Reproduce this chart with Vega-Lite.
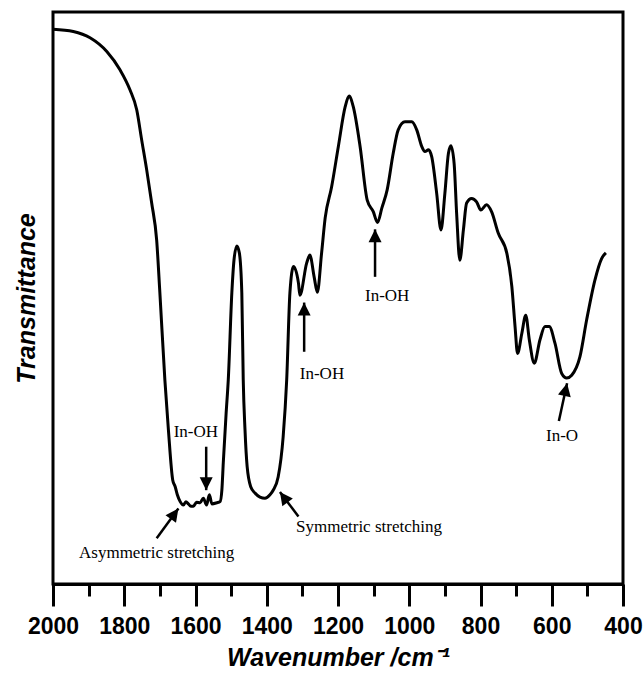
{
  "$schema": "https://vega.github.io/schema/vega-lite/v6.json",
  "width": 570,
  "height": 572,
  "autosize": {"type": "none"},
  "padding": {"left": 53, "top": 12, "right": 21, "bottom": 91},
  "background": "white",
  "config": {
    "view": {"stroke": "black", "strokeWidth": 3},
    "font": "Liberation Sans"
  },
  "datasets": {
    "spectrum": [
      {"wn": 2000, "t": 97.0}, {"wn": 1943, "t": 96.6}, {"wn": 1896, "t": 95.5}, {"wn": 1849, "t": 93.1},
      {"wn": 1812, "t": 89.9}, {"wn": 1784, "t": 86.4}, {"wn": 1765, "t": 82.9}, {"wn": 1751, "t": 77.6},
      {"wn": 1737, "t": 72.4}, {"wn": 1723, "t": 66.6}, {"wn": 1709, "t": 60.1}, {"wn": 1700, "t": 50.9},
      {"wn": 1686, "t": 35.7}, {"wn": 1676, "t": 26.9}, {"wn": 1664, "t": 18.2}, {"wn": 1657, "t": 17.0},
      {"wn": 1651, "t": 15.6}, {"wn": 1643, "t": 14.4}, {"wn": 1634, "t": 13.8}, {"wn": 1627, "t": 14.4},
      {"wn": 1620, "t": 14.0}, {"wn": 1613, "t": 13.6}, {"wn": 1606, "t": 13.6}, {"wn": 1597, "t": 14.3},
      {"wn": 1587, "t": 14.2}, {"wn": 1578, "t": 15.0}, {"wn": 1569, "t": 13.8}, {"wn": 1561, "t": 15.6},
      {"wn": 1554, "t": 14.0}, {"wn": 1540, "t": 14.2}, {"wn": 1531, "t": 14.4}, {"wn": 1526, "t": 16.4},
      {"wn": 1522, "t": 21.2}, {"wn": 1514, "t": 29.9}, {"wn": 1508, "t": 35.7}, {"wn": 1498, "t": 50.9},
      {"wn": 1492, "t": 56.6}, {"wn": 1484, "t": 59.1}, {"wn": 1477, "t": 57.9}, {"wn": 1470, "t": 50.9},
      {"wn": 1466, "t": 35.7}, {"wn": 1461, "t": 26.9}, {"wn": 1455, "t": 20.5}, {"wn": 1445, "t": 17.0},
      {"wn": 1433, "t": 15.9}, {"wn": 1419, "t": 15.2}, {"wn": 1405, "t": 15.0}, {"wn": 1391, "t": 15.6},
      {"wn": 1382, "t": 16.4}, {"wn": 1368, "t": 18.7}, {"wn": 1354, "t": 25.7}, {"wn": 1344, "t": 35.7},
      {"wn": 1335, "t": 50.9}, {"wn": 1325, "t": 55.5}, {"wn": 1311, "t": 52.6}, {"wn": 1307, "t": 50.5},
      {"wn": 1288, "t": 56.1}, {"wn": 1279, "t": 57.5}, {"wn": 1267, "t": 53.7}, {"wn": 1258, "t": 51.0},
      {"wn": 1246, "t": 57.9}, {"wn": 1236, "t": 64.0}, {"wn": 1218, "t": 69.4}, {"wn": 1199, "t": 76.5},
      {"wn": 1180, "t": 83.4}, {"wn": 1169, "t": 85.3}, {"wn": 1157, "t": 83.4}, {"wn": 1138, "t": 76.5},
      {"wn": 1118, "t": 67.1}, {"wn": 1101, "t": 65.1}, {"wn": 1089, "t": 63.2}, {"wn": 1077, "t": 65.7},
      {"wn": 1062, "t": 68.9}, {"wn": 1045, "t": 75.3}, {"wn": 1031, "t": 79.4}, {"wn": 1012, "t": 80.8},
      {"wn": 993, "t": 80.8}, {"wn": 979, "t": 79.4}, {"wn": 965, "t": 76.5}, {"wn": 956, "t": 75.6},
      {"wn": 946, "t": 75.9}, {"wn": 937, "t": 74.7}, {"wn": 923, "t": 68.3}, {"wn": 911, "t": 61.9},
      {"wn": 900, "t": 68.3}, {"wn": 890, "t": 75.3}, {"wn": 883, "t": 76.6}, {"wn": 874, "t": 73.5},
      {"wn": 867, "t": 64.8}, {"wn": 858, "t": 56.6}, {"wn": 848, "t": 61.9}, {"wn": 839, "t": 66.6},
      {"wn": 825, "t": 67.4}, {"wn": 811, "t": 66.8}, {"wn": 799, "t": 65.4}, {"wn": 783, "t": 66.3},
      {"wn": 769, "t": 65.1}, {"wn": 750, "t": 61.3}, {"wn": 726, "t": 57.8}, {"wn": 712, "t": 52.0},
      {"wn": 703, "t": 45.0}, {"wn": 696, "t": 40.3}, {"wn": 684, "t": 43.8}, {"wn": 673, "t": 47.0},
      {"wn": 663, "t": 42.7}, {"wn": 649, "t": 38.6}, {"wn": 633, "t": 42.7}, {"wn": 619, "t": 45.0},
      {"wn": 607, "t": 45.0}, {"wn": 591, "t": 42.1}, {"wn": 572, "t": 36.8}, {"wn": 558, "t": 36.0},
      {"wn": 544, "t": 36.5}, {"wn": 521, "t": 39.7}, {"wn": 502, "t": 46.2}, {"wn": 479, "t": 53.1},
      {"wn": 460, "t": 56.9}, {"wn": 448, "t": 57.9}
    ],
    "notes": [
      {"text": "In-OH", "wn": 1599, "t": 26.6},
      {"text": "Asymmetric stretching", "wn": 1709, "t": 5.4},
      {"text": "Symmetric stretching", "wn": 1113, "t": 10.0},
      {"text": "In-OH", "wn": 1245, "t": 36.7},
      {"text": "In-OH", "wn": 1062, "t": 50.3},
      {"text": "In-O", "wn": 571, "t": 25.9}
    ],
    "arrows": [
      {"id": "a1", "wn": 1570, "t": 24.0, "wn2": 1570, "t2": 16.4},
      {"id": "a2", "wn": 1709, "t": 8.0, "wn2": 1648, "t2": 13.2},
      {"id": "a3", "wn": 1311, "t": 11.8, "wn2": 1363, "t2": 16.1},
      {"id": "a4", "wn": 1295, "t": 40.6, "wn2": 1295, "t2": 49.2},
      {"id": "a5", "wn": 1096, "t": 53.7, "wn2": 1096, "t2": 62.0},
      {"id": "a6", "wn": 580, "t": 28.5, "wn2": 557, "t2": 35.1}
    ]
  },
  "encoding": {
    "x": {
      "field": "wn",
      "type": "quantitative",
      "scale": {"domain": [400, 2000], "reverse": true, "nice": false, "zero": false},
      "axis": {
        "title": "Wavenumber /cm⁻¹",
        "titleFont": "Liberation Sans",
        "titleFontSize": 25,
        "titleFontWeight": "bold",
        "titleFontStyle": "italic",
        "titleColor": "black",
        "titlePadding": 7,
        "values": [2000, 1900, 1800, 1700, 1600, 1500, 1400, 1300, 1200, 1100, 1000, 900, 800, 700, 600, 500, 400],
        "labelExpr": "datum.value % 200 === 0 ? datum.label : ''",
        "format": "d",
        "labelFont": "Liberation Sans",
        "labelFontSize": 23,
        "labelFontWeight": "bold",
        "labelColor": "black",
        "labelPadding": 9,
        "labelFlush": false,
        "labelOverlap": false,
        "grid": false,
        "domainColor": "black",
        "domainWidth": 3,
        "tickColor": "black",
        "tickWidth": 3,
        "tickSize": {"condition": {"test": "datum.value % 200 === 0", "value": 22}, "value": 12}
      }
    },
    "y": {
      "field": "t",
      "type": "quantitative",
      "scale": {"domain": [0, 100], "nice": false, "zero": false},
      "axis": {
        "title": "Transmittance",
        "titleFont": "Liberation Sans",
        "titleFontSize": 25,
        "titleFontWeight": "bold",
        "titleFontStyle": "italic",
        "titleColor": "black",
        "titlePadding": 14,
        "domain": false,
        "ticks": false,
        "labels": false,
        "grid": false
      }
    }
  },
  "layer": [
    {
      "data": {"name": "spectrum"},
      "mark": {"type": "line", "color": "black", "strokeWidth": 3, "interpolate": "monotone", "strokeJoin": "round"}
    },
    {
      "data": {"name": "arrows"},
      "mark": {"type": "rule", "color": "black", "strokeWidth": 2.5},
      "encoding": {"x2": {"field": "wn2"}, "y2": {"field": "t2"}}
    },
    {
      "data": {"name": "arrows"},
      "transform": [{"filter": "datum.id === 'a1'"}],
      "mark": {"type": "point", "shape": "M0,0L0.5,1L-0.5,1Z", "filled": true, "color": "black", "opacity": 1, "size": 676, "angle": 180},
      "encoding": {"x": {"field": "wn2", "type": "quantitative"}, "y": {"field": "t2", "type": "quantitative"}}
    },
    {
      "data": {"name": "arrows"},
      "transform": [{"filter": "datum.id === 'a2'"}],
      "mark": {"type": "point", "shape": "M0,0L0.5,1L-0.5,1Z", "filled": true, "color": "black", "opacity": 1, "size": 676, "angle": 36},
      "encoding": {"x": {"field": "wn2", "type": "quantitative"}, "y": {"field": "t2", "type": "quantitative"}}
    },
    {
      "data": {"name": "arrows"},
      "transform": [{"filter": "datum.id === 'a3'"}],
      "mark": {"type": "point", "shape": "M0,0L0.5,1L-0.5,1Z", "filled": true, "color": "black", "opacity": 1, "size": 676, "angle": 324},
      "encoding": {"x": {"field": "wn2", "type": "quantitative"}, "y": {"field": "t2", "type": "quantitative"}}
    },
    {
      "data": {"name": "arrows"},
      "transform": [{"filter": "datum.id === 'a4' || datum.id === 'a5'"}],
      "mark": {"type": "point", "shape": "M0,0L0.5,1L-0.5,1Z", "filled": true, "color": "black", "opacity": 1, "size": 676, "angle": 0},
      "encoding": {"x": {"field": "wn2", "type": "quantitative"}, "y": {"field": "t2", "type": "quantitative"}}
    },
    {
      "data": {"name": "arrows"},
      "transform": [{"filter": "datum.id === 'a6'"}],
      "mark": {"type": "point", "shape": "M0,0L0.5,1L-0.5,1Z", "filled": true, "color": "black", "opacity": 1, "size": 676, "angle": 12},
      "encoding": {"x": {"field": "wn2", "type": "quantitative"}, "y": {"field": "t2", "type": "quantitative"}}
    },
    {
      "data": {"name": "notes"},
      "mark": {"type": "text", "font": "Liberation Serif", "fontSize": 17, "color": "black", "align": "center", "baseline": "middle"},
      "encoding": {"text": {"field": "text"}}
    }
  ]
}
